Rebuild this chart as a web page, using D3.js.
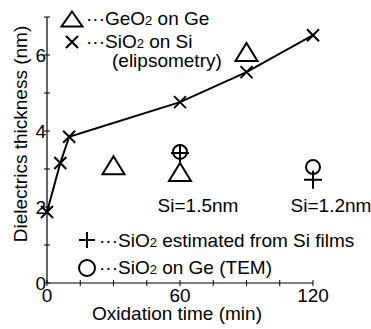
<!DOCTYPE html>
<html><head><meta charset="utf-8">
<script src="https://cdn.jsdelivr.net/npm/d3@7"></script>
<style>body{margin:0;background:#fff}svg{display:block}text{font-family:"Liberation Sans",Arial,sans-serif;fill:#000}</style>
</head><body><svg id="c" width="371" height="329"></svg>
<script>
// Data
const sio2Si_time = [0, 6, 10, 60, 90, 120];
const sio2Si_thick = [1.87, 3.16, 3.85, 4.76, 5.55, 6.52];
const geo2_time = [30, 60, 90];
const geo2_thick = [3.1, 2.92, 6.08];
const temCircle_time = [60, 120];
const temCircle_thick = [3.45, 3.05];
const estPlus_time = [60, 120];
const estPlus_thick = [3.42, 2.72];
const xTicks = [0, 15, 30, 45, 60, 75, 90, 105, 120];
const xTickLabels = [0, 60, 120];
const yTicks = [0, 1, 2, 3, 4, 5, 6, 7];
const yTickLabels = [0, 2, 4, 6];
const siLabels = [{t: 60, text: "Si=1.5nm"}, {t: 120, text: "Si=1.2nm"}];

const svg = d3.select("#c");
const x = d3.scaleLinear().domain([0, 120]).range([47, 313]);
const y = d3.scaleLinear().domain([0, 7]).range([283, 17]);
const FS = 19;

// axes
svg.append("line").attr("x1", x(0)).attr("x2", x(120)).attr("y1", y(0)).attr("y2", y(0)).attr("stroke", "#000").attr("stroke-width", 1.2);
svg.append("line").attr("x1", x(0)).attr("x2", x(0)).attr("y1", y(0)).attr("y2", y(7)).attr("stroke", "#000").attr("stroke-width", 1.2);
svg.selectAll(".xt").data(xTicks).enter().append("line")
  .attr("x1", d => x(d)).attr("x2", d => x(d)).attr("y1", y(0) - 3).attr("y2", y(0) + 3)
  .attr("stroke", "#000").attr("stroke-width", 1);
svg.selectAll(".yt").data(yTicks).enter().append("line")
  .attr("x1", x(0) - 3).attr("x2", x(0) + 3).attr("y1", d => y(d)).attr("y2", d => y(d))
  .attr("stroke", "#000").attr("stroke-width", 1);
svg.selectAll(".xl").data(xTickLabels).enter().append("text")
  .attr("x", d => x(d)).attr("y", y(0) + 19).attr("text-anchor", "middle").attr("font-size", FS).text(d => d);
svg.selectAll(".yl").data(yTickLabels).enter().append("text")
  .attr("x", x(0) - 1).attr("y", d => y(d)).attr("dy", "0.35em").attr("text-anchor", "end").attr("font-size", FS).text(d => d);
svg.append("text").attr("x", 177).attr("y", 320).attr("text-anchor", "middle").attr("font-size", FS).text("Oxidation time (min)");
svg.append("text").attr("transform", "translate(27,134) rotate(-90)").attr("text-anchor", "middle").attr("font-size", FS).text("Dielectrics thickness (nm)");

// marker helpers
function cross(g, cx, cy, h) {
  g.append("path").attr("d", `M${cx-h},${cy-h}L${cx+h},${cy+h}M${cx-h},${cy+h}L${cx+h},${cy-h}`).attr("stroke", "#000").attr("stroke-width", 2).attr("fill", "none");
}
function tri(g, cx, cy, w, h) {
  g.append("path").attr("d", `M${cx},${cy-h/2}L${cx+w/2},${cy+h/2}L${cx-w/2},${cy+h/2}Z`).attr("stroke", "#000").attr("stroke-width", 2).attr("fill", "none");
}
function circ(g, cx, cy, r) {
  g.append("circle").attr("cx", cx).attr("cy", cy).attr("r", r).attr("stroke", "#000").attr("stroke-width", 2).attr("fill", "none");
}
function plus(g, cx, cy, h) {
  g.append("path").attr("d", `M${cx-h},${cy}L${cx+h},${cy}M${cx},${cy-h}L${cx},${cy+h}`).attr("stroke", "#000").attr("stroke-width", 2).attr("fill", "none");
}

// line
const pts = sio2Si_time.map((t, i) => [t, sio2Si_thick[i]]);
svg.append("path").datum(pts).attr("d", d3.line().x(d => x(d[0])).y(d => y(d[1])))
  .attr("fill", "none").attr("stroke", "#000").attr("stroke-width", 2);
pts.forEach(p => cross(svg, x(p[0]), y(p[1]), 6));
geo2_time.forEach((t, i) => tri(svg, x(t), y(geo2_thick[i]), 22, 18));
temCircle_time.forEach((t, i) => circ(svg, x(t), y(temCircle_thick[i]), 7));
estPlus_time.forEach((t, i) => plus(svg, x(t), y(estPlus_thick[i]), 9));
siLabels.forEach(s => svg.append("text").attr("x", x(s.t) + 18).attr("y", 212).attr("text-anchor", "middle").attr("font-size", FS).text(s.text));

// legend
function legText(xp, yp, pre, post) {
  const t = svg.append("text").attr("x", xp).attr("y", yp).attr("font-size", FS);
  t.append("tspan").text("\u00b7\u00b7\u00b7" + pre);
  t.append("tspan").attr("font-size", 13).text("2");
  t.append("tspan").text(" " + post);
}
tri(svg, 72, 19, 21, 15);
legText(86, 25, "GeO", "on Ge");
cross(svg, 72, 42, 6);
legText(86, 48, "SiO", "on Si");
svg.append("text").attr("x", 112).attr("y", 67).attr("font-size", FS).text("(elipsometry)");
plus(svg, 87, 240, 8);
legText(99, 247, "SiO", "estimated from Si films");
circ(svg, 87, 268, 8);
legText(99, 274, "SiO", "on Ge (TEM)");
</script></body></html>
